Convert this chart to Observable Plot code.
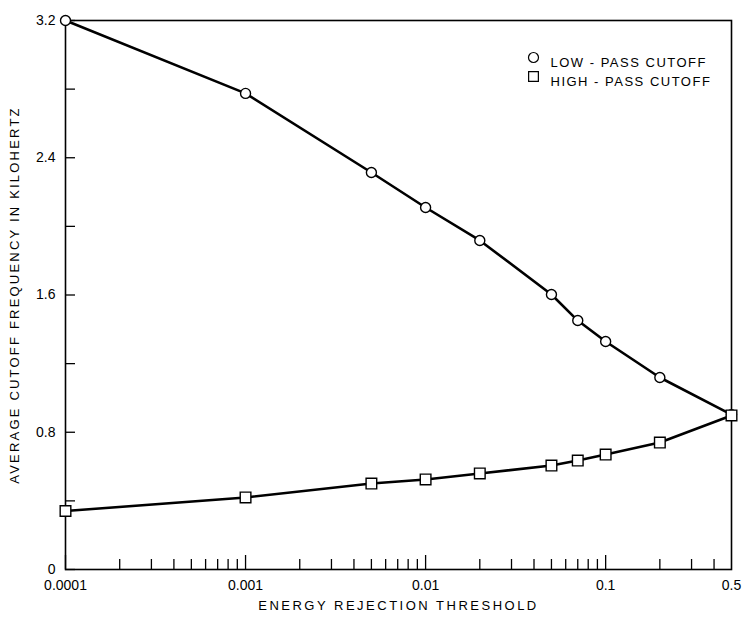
<!DOCTYPE html>
<html>
<head>
<meta charset="utf-8">
<script src="https://cdn.jsdelivr.net/npm/d3@7"></script>
<script src="https://cdn.jsdelivr.net/npm/@observablehq/plot@0.6"></script>
<style>
  html, body { margin: 0; padding: 0; background: #fff; }
  #chart svg { font-family: "Liberation Sans", Arial, sans-serif; }
  g[aria-label="x-axis label"] text { font-size: 13px; letter-spacing: 2.5px; }
  g[aria-label="y-axis label"] text { font-size: 13px; letter-spacing: 2.2px; }
  .legend-text text { letter-spacing: 1.5px; }
</style>
</head>
<body>
<div id="chart"></div>
<script>
// Data
const thresholds = [0.0001, 0.001, 0.005, 0.01, 0.02, 0.05, 0.07, 0.1, 0.2, 0.5];
const lowPass  = [3.2, 2.775, 2.314, 2.110, 1.918, 1.603, 1.451, 1.329, 1.119, 0.903];
const highPass = [0.341, 0.420, 0.501, 0.525, 0.560, 0.606, 0.635, 0.670, 0.740, 0.898];
const seriesNames = ["LOW - PASS CUTOFF", "HIGH - PASS CUTOFF"];

// Axis ticks
const xTickLabels = [0.0001, 0.001, 0.01, 0.1];
const xEndLabel = [0.5];
const xMajorTicks = [0.0001, 0.001, 0.01, 0.1];
const xMinorTicks = [1e-4, 1e-3, 1e-2].flatMap(d => [2,3,4,5,6,7,8,9].map(k => +(k * d).toPrecision(3))).concat([0.2, 0.3, 0.4]);
const yTickLabels = [0, 0.8, 1.6, 2.4, 3.2];
const yTicks = [0, 0.4, 0.8, 1.2, 1.6, 2.0, 2.4, 2.8, 3.2];

const low = thresholds.map((x, i) => ({x, y: lowPass[i], s: seriesNames[0]}));
const high = thresholds.map((x, i) => ({x, y: highPass[i], s: seriesNames[1]}));

const plot = Plot.plot({
  width: 744,
  height: 617,
  marginLeft: 65,
  marginRight: 13,
  marginTop: 20,
  marginBottom: 48,
  style: {fontFamily: "Liberation Sans, Arial, sans-serif", color: "#000", background: "#fff"},
  x: {type: "log", domain: [0.0001, 0.5], label: null},
  y: {domain: [0, 3.2], label: null},
  marks: [
    Plot.frame({strokeWidth: 1.6}),
    // tick-only axes (inward)
    Plot.axisX({ticks: xMajorTicks, tickSize: -14, tickFormat: () => "", strokeWidth: 1.3, label: null}),
    Plot.axisX({ticks: xMinorTicks, tickSize: -10, tickFormat: () => "", strokeWidth: 1.3, label: null}),
    Plot.axisY({ticks: yTicks, tickSize: -10, tickFormat: () => "", strokeWidth: 1.3, label: null}),
    // labelled axes
    Plot.axisX({ticks: xTickLabels, tickSize: 0, tickPadding: 11, fontSize: 14, tickFormat: d => String(d),
      label: "ENERGY REJECTION THRESHOLD", labelAnchor: "center", labelArrow: "none", labelOffset: 40}),
    Plot.text(xEndLabel, {x: d => d, frameAnchor: "bottom", dy: 11, lineAnchor: "top", text: d => String(d), fontSize: 14, fill: "#000"}),
    Plot.axisY({ticks: yTickLabels, tickSize: 0, tickPadding: 10, fontSize: 14, tickFormat: d => d === 0 ? "0" : d.toFixed(1),
      label: "AVERAGE CUTOFF FREQUENCY IN KILOHERTZ", labelAnchor: "center", labelArrow: "none", labelOffset: 56}),
    // series
    Plot.line(low, {x: "x", y: "y", stroke: "#000", strokeWidth: 2.6}),
    Plot.line(high, {x: "x", y: "y", stroke: "#000", strokeWidth: 2.6}),
    Plot.dot(low, {x: "x", y: "y", symbol: "circle", r: 5, fill: "#fff", stroke: "#000", strokeWidth: 1.4}),
    Plot.dot(high, {x: "x", y: "y", symbol: "square", r: 6, fill: "#fff", stroke: "#000", strokeWidth: 1.4}),
    // legend
    Plot.dot([seriesNames[0]], {frameAnchor: "top-right", dx: -198, dy: 37, symbol: "circle", r: 5, fill: "#fff", stroke: "#000", strokeWidth: 1.2}),
    Plot.dot([seriesNames[1]], {frameAnchor: "top-right", dx: -198, dy: 56, symbol: "square", r: 5.5, fill: "#fff", stroke: "#000", strokeWidth: 1.2}),
    Plot.text([seriesNames[0]], {text: d => d, frameAnchor: "top-right", dx: -181, dy: 37, textAnchor: "start", fontSize: 13, fill: "#000", className: "legend-text"}),
    Plot.text([seriesNames[1]], {text: d => d, frameAnchor: "top-right", dx: -181, dy: 56, textAnchor: "start", fontSize: 13, fill: "#000", className: "legend-text"})
  ]
});
document.getElementById("chart").appendChild(plot);
</script>
</body>
</html>
